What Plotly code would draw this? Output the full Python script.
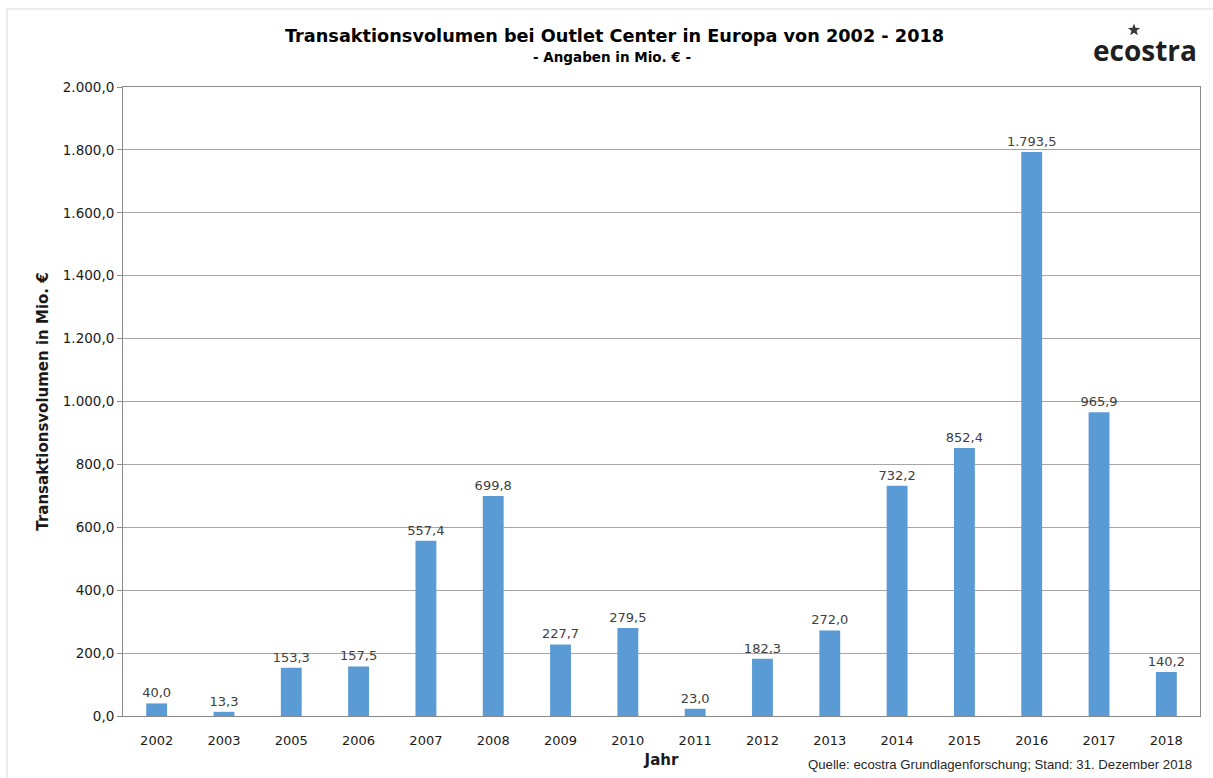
import math
import plotly.graph_objects as go

years = ["2002", "2003", "2005", "2006", "2007", "2008", "2009", "2010",
         "2011", "2012", "2013", "2014", "2015", "2016", "2017", "2018"]
volumes = [40.0, 13.3, 153.3, 157.5, 557.4, 699.8, 227.7, 279.5,
           23.0, 182.3, 272.0, 732.2, 852.4, 1793.5, 965.9, 140.2]
y_ticks = [0, 200, 400, 600, 800, 1000, 1200, 1400, 1600, 1800, 2000]

FONT = "DejaVu Sans"

fig = go.Figure(go.Bar(
    x=years, y=volumes,
    marker=dict(color="#5B9BD5", line=dict(width=0)),
    width=0.31,
    texttemplate="%{y:,.1f}",
    textposition="outside",
    constraintext="none",
    textfont=dict(family=FONT, size=13, color="#404040"),
    cliponaxis=False,
))

L, R, T, B = 123, 13, 87, 62
W, H = 1213, 778
pw, ph = W - L - R, H - T - B

fig.update_layout(
    width=W, height=H,
    margin=dict(l=L, r=R, t=T, b=B),
    paper_bgcolor="white", plot_bgcolor="white",
    separators=",.",
    showlegend=False,
    font=dict(family=FONT, color="#000000"),
    xaxis=dict(
        type="category",
        showline=True, linecolor="#898989", linewidth=1, mirror=True,
        ticks="", ticklabelstandoff=12,
        tickfont=dict(family=FONT, size=13, color="#1a1a1a"),
        title=dict(text="<b>Jahr</b>", font=dict(family=FONT, size=15, color="#1a1a1a"), standoff=7),
    ),
    yaxis=dict(
        range=[0, 2000], tickvals=y_ticks, tickformat=",.1f",
        showgrid=True, gridcolor="#a6a6a6", gridwidth=1,
        showline=True, linecolor="#898989", linewidth=1, mirror=True,
        ticks="outside", ticklen=5, tickcolor="#898989",
        tickfont=dict(family=FONT, size=13.5, color="#1a1a1a"),
        title=dict(text="<b>Transaktionsvolumen in Mio. €</b>",
                   font=dict(family=FONT, size=15, color="#1a1a1a"), standoff=10),
        zeroline=False,
    ),
)

def px_x(x):
    return (x - L) / pw

def px_y(y):
    return (H - B - y) / ph

# outer frame (left and top)
fig.add_shape(type="line", xref="paper", yref="paper",
              x0=px_x(7), x1=px_x(7), y0=px_y(9), y1=px_y(790),
              line=dict(color="#d9d9d9", width=1))
fig.add_shape(type="line", xref="paper", yref="paper",
              x0=px_x(7), x1=px_x(1220), y0=px_y(9), y1=px_y(9),
              line=dict(color="#d9d9d9", width=1))

fig.add_annotation(xref="paper", yref="paper", x=px_x(614), y=px_y(36),
                   text="<b>Transaktionsvolumen bei Outlet Center in Europa von 2002 - 2018</b>",
                   showarrow=False, font=dict(family=FONT, size=17.7, color="#000000"),
                   xanchor="center", yanchor="middle")
fig.add_annotation(xref="paper", yref="paper", x=px_x(612), y=px_y(57),
                   text="<b>- Angaben in Mio. € -</b>",
                   showarrow=False, font=dict(family=FONT, size=13.5, color="#000000"),
                   xanchor="center", yanchor="middle")

# logo text
fig.add_annotation(xref="paper", yref="paper", x=px_x(1199), y=px_y(50),
                   text="<b>ecostra</b>", showarrow=False,
                   font=dict(family="Open Sans", size=28, color="#1f1f1f"),
                   xanchor="right", yanchor="middle")

# logo star drawn as a small path (decoration)
cx, cy, ro, ri = 1134, 30, 6.5, 2.7
pts = []
for k in range(10):
    ang = math.pi / 2 + k * math.pi / 5
    r = ro if k % 2 == 0 else ri
    pts.append((px_x(cx + r * math.cos(ang)), px_y(cy - r * math.sin(ang))))
path = "M " + " L ".join(f"{a},{b}" for a, b in pts) + " Z"
fig.add_shape(type="path", xref="paper", yref="paper", path=path,
              fillcolor="#3a3a3a", line=dict(width=0))

fig.add_annotation(xref="paper", yref="paper", x=px_x(1194), y=px_y(764),
                   text="Quelle: ecostra Grundlagenforschung; Stand: 31. Dezember 2018",
                   showarrow=False, font=dict(family="Liberation Sans", size=13.2, color="#262626"),
                   xanchor="right", yanchor="middle")

fig.write_html("out.html", config={"displayModeBar": False},
               post_script="document.body.style.margin='0';document.body.style.overflow='hidden';")
